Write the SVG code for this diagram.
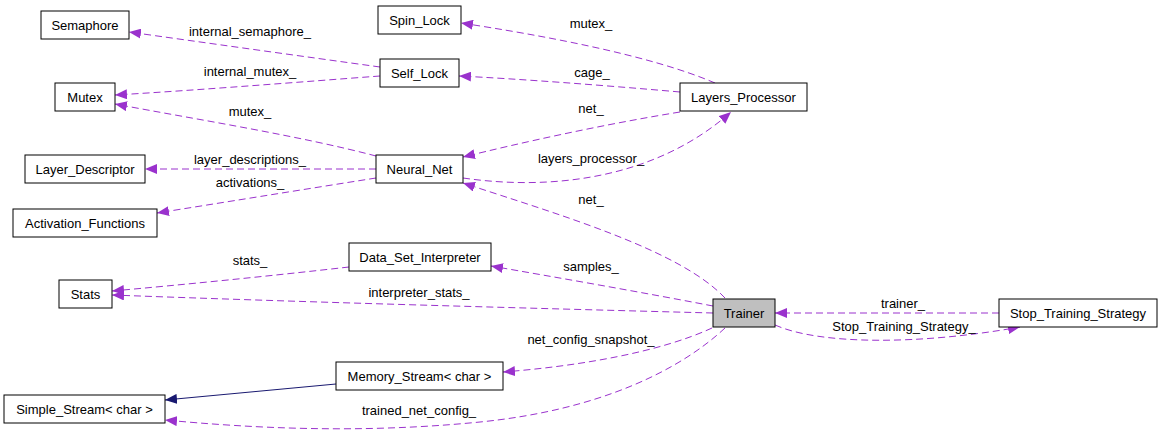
<svg xmlns="http://www.w3.org/2000/svg" width="1163" height="435" viewBox="0 0 1163 435">
<style>
.n rect{fill:#fff;stroke:#000;stroke-width:1}
.n.g rect{fill:#bfbfbf}
text{font-family:"Liberation Sans",Arial,sans-serif;font-size:13px;fill:#000;text-anchor:middle}
.e{fill:none;stroke:#9a32cd;stroke-width:1;stroke-dasharray:7,4}
.s{fill:none;stroke:#191970;stroke-width:1}
</style>
<defs>
<marker id="ap" markerUnits="userSpaceOnUse" markerWidth="12" markerHeight="10" refX="12" refY="5" orient="auto"><path d="M0,0 L12,5 L0,10 z" fill="#9a32cd"/></marker>
<marker id="an" markerUnits="userSpaceOnUse" markerWidth="12" markerHeight="10" refX="12" refY="5" orient="auto"><path d="M0,0 L12,5 L0,10 z" fill="#191970"/></marker>
</defs>
<rect width="1163" height="435" fill="#fff"/>
<g id="connectors">
<path class="e" marker-end="url(#ap)" d="M380,67 C300,56 200,42 129,32"/>
<text x="250" y="36">internal_semaphore_</text>
<path class="e" marker-end="url(#ap)" d="M380,76 C300,82 200,90 115,95"/>
<text x="250" y="76">internal_mutex_</text>
<path class="e" marker-end="url(#ap)" d="M376,156 C300,136 200,120 115,104"/>
<text x="250" y="116">mutex_</text>
<path class="e" marker-end="url(#ap)" d="M376,169 L145,169"/>
<text x="250" y="164">layer_descriptions_</text>
<path class="e" marker-end="url(#ap)" d="M376,178 C300,190 220,203 157,213"/>
<text x="250" y="187">activations_</text>
<path class="e" marker-end="url(#ap)" d="M715,83 C650,55 540,35 461,23"/>
<text x="591" y="28">mutex_</text>
<path class="e" marker-end="url(#ap)" d="M680,92 C600,85 520,79 459,76"/>
<text x="592" y="77">cage_</text>
<path class="e" marker-end="url(#ap)" d="M680,112 C600,125 520,143 463,157"/>
<text x="591" y="113">net_</text>
<path class="e" marker-end="url(#ap)" d="M463,178 C560,192 660,175 731,112"/>
<text x="591" y="163">layers_processor_</text>
<path class="e" marker-end="url(#ap)" d="M725,298 C680,250 560,215 463,183"/>
<text x="591" y="204">net_</text>
<path class="e" marker-end="url(#ap)" d="M713,306 C640,292 560,278 491,266"/>
<text x="591" y="271">samples_</text>
<path class="e" marker-end="url(#ap)" d="M349,267 C270,276 180,285 112,291"/>
<text x="250" y="265">stats_</text>
<path class="e" marker-end="url(#ap)" d="M713,313 C520,308 300,302 112,295"/>
<text x="419" y="297">interpreter_stats_</text>
<path class="e" marker-end="url(#ap)" d="M712,328 C660,352 580,366 503,372"/>
<text x="591" y="344">net_config_snapshot_</text>
<path class="e" marker-end="url(#ap)" d="M725,328 C680,370 600,410 480,422 C360,434 250,428 165,420"/>
<text x="419" y="415">trained_net_config_</text>
<path class="s" marker-end="url(#an)" d="M336,384 L165,400"/>
<path class="e" marker-end="url(#ap)" d="M999,313 L775,313"/>
<text x="903" y="308">trainer_</text>
<path class="e" marker-end="url(#ap)" d="M775,325 C820,345 920,345 1020,327"/>
<text x="904" y="331">Stop_Training_Strategy_</text>
</g>
<g id="node-semaphore" class="n"><rect x="41" y="11" width="88" height="28"/><text x="85" y="30">Semaphore</text></g>
<g id="node-mutex" class="n"><rect x="55" y="83" width="60" height="28"/><text x="85" y="102">Mutex</text></g>
<g id="node-spin-lock" class="n"><rect x="378" y="6" width="83" height="28"/><text x="419.5" y="25">Spin_Lock</text></g>
<g id="node-self-lock" class="n"><rect x="380" y="59" width="79" height="28"/><text x="419.5" y="78">Self_Lock</text></g>
<g id="node-layers-processor" class="n"><rect x="680" y="83" width="127" height="28"/><text x="743.5" y="102">Layers_Processor</text></g>
<g id="node-layer-descriptor" class="n"><rect x="25" y="155" width="120" height="28"/><text x="85" y="174">Layer_Descriptor</text></g>
<g id="node-activation-functions" class="n"><rect x="13" y="209" width="144" height="28"/><text x="85" y="228">Activation_Functions</text></g>
<g id="node-stats" class="n"><rect x="59" y="280" width="53" height="28"/><text x="85.5" y="299">Stats</text></g>
<g id="node-neural-net" class="n"><rect x="376" y="155" width="87" height="28"/><text x="419.5" y="174">Neural_Net</text></g>
<g id="node-data-set-interpreter" class="n"><rect x="349" y="243" width="142" height="28"/><text x="420" y="262">Data_Set_Interpreter</text></g>
<g id="node-trainer" class="n g"><rect x="713" y="299" width="62" height="28"/><text x="744" y="318">Trainer</text></g>
<g id="node-stop-training-strategy" class="n"><rect x="999" y="299" width="158" height="28"/><text x="1078" y="318">Stop_Training_Strategy</text></g>
<g id="node-memory-stream" class="n"><rect x="336" y="362" width="167" height="28"/><text x="419.5" y="381">Memory_Stream&lt; char &gt;</text></g>
<g id="node-simple-stream" class="n"><rect x="4" y="395" width="161" height="28"/><text x="84.5" y="414">Simple_Stream&lt; char &gt;</text></g>
</svg>
